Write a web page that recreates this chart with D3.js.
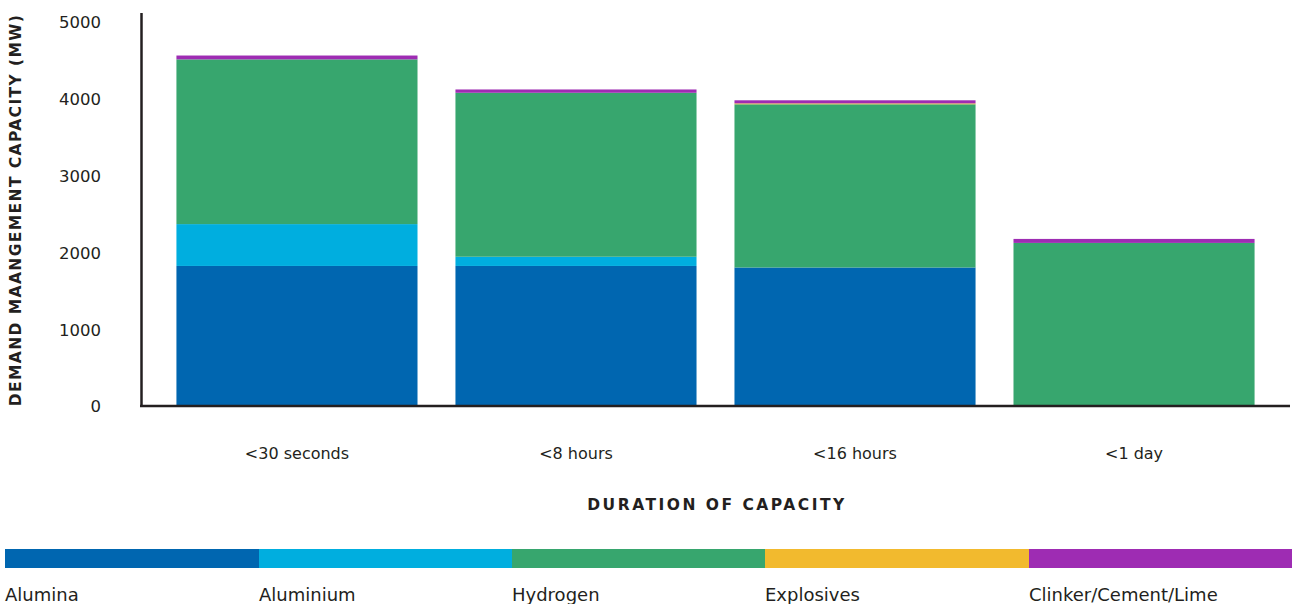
<!DOCTYPE html>
<html>
<head>
<meta charset="utf-8">
<script src="https://cdn.jsdelivr.net/npm/d3@7"></script>
<style>
  html, body { margin: 0; padding: 0; background: #fff; }
  svg { display: block; font-family: "DejaVu Sans", sans-serif; }
</style>
</head>
<body>
<svg id="chart" width="1295" height="604"></svg>
<script>
// Duration buckets on the x axis
const durations = ["<30 seconds", "<8 hours", "<16 hours", "<1 day"];

// Stacked series (MW), bottom to top
const seriesNames = ["Alumina", "Aluminium", "Hydrogen", "Explosives", "Clinker/Cement/Lime"];
const alumina    = [1830, 1830, 1810, 0];
const aluminium  = [545, 120, 0, 0];
const hydrogen   = [2145, 2135, 2125, 2130];
const explosives = [0, 0, 12, 0];
const clinker    = [50, 43, 40, 52];
const seriesColors = ["#0066b0", "#00aedf", "#37a66e", "#f2ba2e", "#9e2cb3"];

const yTicks = [0, 1000, 2000, 3000, 4000, 5000];

const svg = d3.select("#chart");
const ink = "#231f20";

const x = d3.scaleBand()
  .domain(durations)
  .range([141, 1290])
  .paddingInner(0.136)
  .paddingOuter(0.127);

const y = d3.scaleLinear()
  .domain([0, 5000])
  .range([406.5, 22.5]);

const color = d3.scaleOrdinal().domain(seriesNames).range(seriesColors);

// Build rows for d3.stack
const valuesByName = {
  "Alumina": alumina,
  "Aluminium": aluminium,
  "Hydrogen": hydrogen,
  "Explosives": explosives,
  "Clinker/Cement/Lime": clinker
};
const rows = durations.map((d, i) => {
  const r = { duration: d };
  seriesNames.forEach(n => { r[n] = valuesByName[n][i]; });
  return r;
});
const stacked = d3.stack().keys(seriesNames)(rows);

// Bars
svg.append("g")
  .selectAll("g")
  .data(stacked)
  .join("g")
    .attr("fill", s => color(s.key))
  .selectAll("rect")
  .data(s => s)
  .join("rect")
    .attr("x", d => x(d.data.duration))
    .attr("width", x.bandwidth())
    .attr("y", d => y(d[1]))
    .attr("height", d => Math.max(0, y(d[0]) - y(d[1])));

// Axis lines
svg.append("line")
  .attr("x1", 141.5).attr("x2", 141.5)
  .attr("y1", 13).attr("y2", 407)
  .attr("stroke", ink).attr("stroke-width", 2.5);
svg.append("line")
  .attr("x1", 140).attr("x2", 1290)
  .attr("y1", 406).attr("y2", 406)
  .attr("stroke", ink).attr("stroke-width", 2.5);

// Y tick labels
svg.append("g")
  .selectAll("text")
  .data(yTicks)
  .join("text")
    .attr("x", 101)
    .attr("y", d => y(d))
    .attr("dy", "0.36em")
    .attr("text-anchor", "end")
    .attr("font-size", 16.5)
    .attr("fill", ink)
    .text(d => d);

// X tick labels
svg.append("g")
  .selectAll("text")
  .data(durations)
  .join("text")
    .attr("x", d => x(d) + x.bandwidth() / 2)
    .attr("y", 453)
    .attr("dy", "0.36em")
    .attr("text-anchor", "middle")
    .attr("font-size", 16)
    .attr("fill", ink)
    .text(d => d);

// Axis titles
svg.append("text")
  .attr("transform", "translate(15,210) rotate(-90)")
  .attr("dy", "0.36em")
  .attr("text-anchor", "middle")
  .attr("font-size", 15.5)
  .attr("font-weight", "bold")
  .attr("letter-spacing", 1.4)
  .attr("fill", ink)
  .text("DEMAND MAANGEMENT CAPACITY (MW)");

svg.append("text")
  .attr("x", 717)
  .attr("y", 504)
  .attr("dy", "0.36em")
  .attr("text-anchor", "middle")
  .attr("font-size", 15.5)
  .attr("font-weight", "bold")
  .attr("letter-spacing", 2.5)
  .attr("fill", ink)
  .text("DURATION OF CAPACITY");

// Legend: colour strip with labels underneath
const legendStarts = [5, 259, 512, 765, 1029, 1292];
const legend = svg.append("g");
legend.selectAll("rect")
  .data(seriesNames)
  .join("rect")
    .attr("x", (d, i) => legendStarts[i])
    .attr("width", (d, i) => legendStarts[i + 1] - legendStarts[i])
    .attr("y", 549)
    .attr("height", 19)
    .attr("fill", d => color(d));
legend.selectAll("text")
  .data(seriesNames)
  .join("text")
    .attr("x", (d, i) => legendStarts[i])
    .attr("y", 601)
    .attr("font-size", 18)
    .attr("fill", ink)
    .text(d => d);
</script>
</body>
</html>
